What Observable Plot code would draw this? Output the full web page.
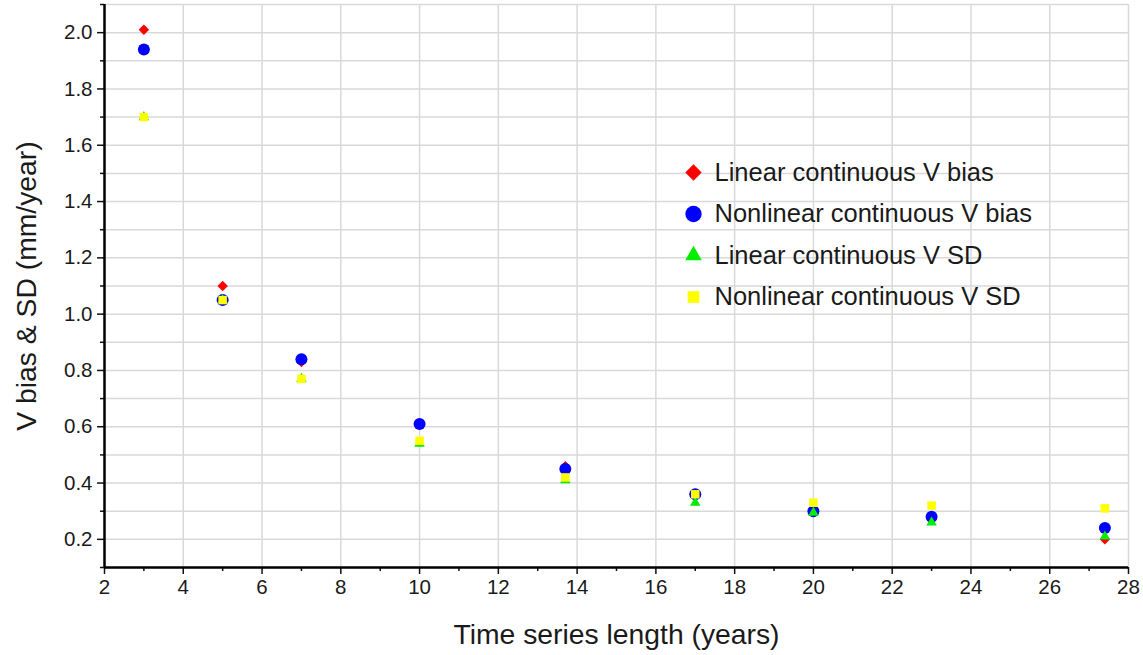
<!DOCTYPE html>
<html>
<head>
<meta charset="utf-8">
<script src="https://cdn.jsdelivr.net/npm/d3@7"></script>
<script src="https://cdn.jsdelivr.net/npm/@observablehq/plot@0.6"></script>
<style>
  html, body { margin: 0; padding: 0; background: #fff; }
  #chart { width: 1143px; height: 655px; }
</style>
</head>
<body>
<div id="chart"></div>
<script>
const years = [3, 5, 7, 10, 13.7, 17, 20, 23, 27.4];
const linearBias = [2.01, 1.10, 0.83, 0.61, 0.46, 0.36, 0.30, 0.27, 0.20];
const nonlinearBias = [1.94, 1.05, 0.84, 0.61, 0.45, 0.36, 0.30, 0.28, 0.24];
const linearSD = [1.70, 1.05, 0.77, 0.54, 0.41, 0.33, 0.295, 0.26, 0.21];
const nonlinearSD = [1.70, 1.05, 0.77, 0.55, 0.42, 0.36, 0.33, 0.32, 0.31];

const seriesNames = ["Linear continuous V bias", "Nonlinear continuous V bias", "Linear continuous V SD", "Nonlinear continuous V SD"];
const seriesColors = ["#ff0000", "#0000ff", "#00ee00", "#ffff00"];
const seriesSymbols = ["diamond2", "circle", "triangle", "square"];
const seriesR = [4.7, 6, 3.9, 4.8];
const legendR = [7.4, 8.2, 6.2, 6.6];

const xMajor = d3.range(2, 28.01, 2);
const xMinor = d3.range(3, 28, 2);
const yMajor = d3.range(2, 21, 2).map(d => d / 10);
const yAll = d3.range(1, 22).map(d => d / 10);

const allValues = [linearBias, nonlinearBias, linearSD, nonlinearSD];
const data = allValues.flatMap((vals, s) => vals.map((v, i) => ({x: years[i], y: v, s})));
const legendItems = seriesNames.map((name, s) => ({name, s}));

const font = "'Liberation Sans', Arial, Helvetica, sans-serif";

const chart = Plot.plot({
  width: 1143,
  height: 655,
  marginLeft: 104,
  marginRight: 15,
  marginTop: 4,
  marginBottom: 88,
  style: {fontFamily: font, background: "#fff", color: "#111"},
  x: {domain: [2, 28]},
  y: {domain: [0.1, 2.1]},
  marks: [
    Plot.gridX(xMajor, {stroke: "#d9d9d9", strokeOpacity: 1, strokeWidth: 1.5}),
    Plot.gridY(yAll, {stroke: "#d9d9d9", strokeOpacity: 1, strokeWidth: 1.5}),
    Plot.axisX(xMajor, {tickSize: 7, tickPadding: 5, fontSize: 20.5, label: null, stroke: "#111", strokeWidth: 1.5, fill: "#1a1a1a"}),
    Plot.axisX(xMinor, {tickSize: 4, text: null, label: null, stroke: "#111", strokeWidth: 1.5}),
    Plot.axisY(yMajor, {tickSize: 7, tickPadding: 5, fontSize: 20.5, tickFormat: d3.format(".1f"), label: null, stroke: "#111", strokeWidth: 1.5, fill: "#1a1a1a"}),
    Plot.axisY(yAll.filter(v => Math.round(v * 10) % 2 === 1), {tickSize: 4, text: null, label: null, stroke: "#111", strokeWidth: 1.5}),
    Plot.ruleX([2], {stroke: "#000", strokeWidth: 2.5}),
    Plot.ruleY([0.1], {stroke: "#000", strokeWidth: 2.5}),
    ...[0, 1, 2, 3].map(s => Plot.dot(data.filter(d => d.s === s), {
      x: "x", y: "y", r: seriesR[s], symbol: () => seriesSymbols[s], fill: seriesColors[s], stroke: "none"
    })),
    ...legendItems.map((it, i) => Plot.dot([it], {
      frameAnchor: "top-left", dx: 589, dy: 168 + i * 41.5,
      r: legendR[i], symbol: () => seriesSymbols[i], fill: seriesColors[i], stroke: "none"
    })),
    ...legendItems.map((it, i) => Plot.text([it], {
      frameAnchor: "top-left", dx: 610, dy: 168 + i * 41.5, text: "name",
      textAnchor: "start", fontSize: 25.5, fill: "#1a1a1a", lineAnchor: "middle"
    })),
    Plot.text(["Time series length (years)"], {
      frameAnchor: "bottom", dy: 67, text: d => d, fontSize: 28.3, fill: "#1a1a1a", lineAnchor: "middle"
    }),
    Plot.text(["V bias & SD (mm/year)"], {
      frameAnchor: "left", dx: -78, rotate: -90, text: d => d, textAnchor: "middle", fontSize: 28.3, fill: "#1a1a1a", lineAnchor: "middle"
    })
  ]
});

document.getElementById("chart").appendChild(chart);
</script>
</body>
</html>
